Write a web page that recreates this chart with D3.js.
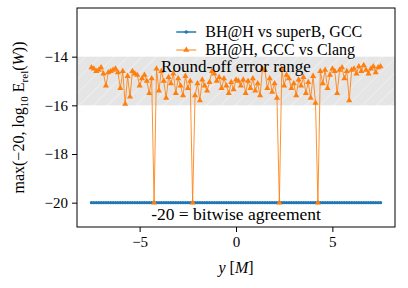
<!DOCTYPE html>
<meta charset="utf-8">
<style>
body { margin: 0; background: #fff; }
svg text { font-family: "Liberation Serif", serif; fill: #000; }
</style>
<body>
<script src="https://cdn.jsdelivr.net/npm/d3@7"></script>
<script>
// sample positions y [M]
var xs = [-7.5, -7.375, -7.25, -7.125, -7, -6.875, -6.75, -6.625, -6.5, -6.375,
  -6.25, -6.125, -6, -5.875, -5.75, -5.625, -5.5, -5.375, -5.25, -5.125,
  -5, -4.875, -4.75, -4.625, -4.5, -4.375, -4.25, -4.125, -4, -3.875,
  -3.75, -3.625, -3.5, -3.375, -3.25, -3.125, -3, -2.875, -2.75, -2.625,
  -2.5, -2.375, -2.25, -2.125, -2, -1.875, -1.75, -1.625, -1.5, -1.375,
  -1.25, -1.125, -1, -0.875, -0.75, -0.625, -0.5, -0.375, -0.25, -0.125,
  0, 0.125, 0.25, 0.375, 0.5, 0.625, 0.75, 0.875, 1, 1.125,
  1.25, 1.375, 1.5, 1.625, 1.75, 1.875, 2, 2.125, 2.25, 2.375,
  2.5, 2.625, 2.75, 2.875, 3, 3.125, 3.25, 3.375, 3.5, 3.625,
  3.75, 3.875, 4, 4.125, 4.25, 4.375, 4.5, 4.625, 4.75, 4.875,
  5, 5.125, 5.25, 5.375, 5.5, 5.625, 5.75, 5.875, 6, 6.125,
  6.25, 6.375, 6.5, 6.625, 6.75, 6.875, 7, 7.125, 7.25, 7.375, 7.5];

// BH@H vs superB, GCC : bitwise agreement everywhere
var superB = [-20, -20, -20, -20, -20, -20, -20, -20, -20, -20,
  -20, -20, -20, -20, -20, -20, -20, -20, -20, -20,
  -20, -20, -20, -20, -20, -20, -20, -20, -20, -20,
  -20, -20, -20, -20, -20, -20, -20, -20, -20, -20,
  -20, -20, -20, -20, -20, -20, -20, -20, -20, -20,
  -20, -20, -20, -20, -20, -20, -20, -20, -20, -20,
  -20, -20, -20, -20, -20, -20, -20, -20, -20, -20,
  -20, -20, -20, -20, -20, -20, -20, -20, -20, -20,
  -20, -20, -20, -20, -20, -20, -20, -20, -20, -20,
  -20, -20, -20, -20, -20, -20, -20, -20, -20, -20,
  -20, -20, -20, -20, -20, -20, -20, -20, -20, -20,
  -20, -20, -20, -20, -20, -20, -20, -20, -20, -20, -20];

// BH@H, GCC vs Clang
var clang = [-14.45, -14.5, -14.6, -14.55, -14.45, -14.7, -15.2, -14.65, -14.6, -14.55,
  -14.5, -14.65, -15.3, -14.6, -15.95, -14.8, -15.65, -14.6, -14.7, -14.75,
  -15.2, -14.9, -14.75, -15.0, -15.5, -14.9, -20, -14.5, -15.4, -14.6,
  -15.0, -15.7, -14.85, -15.1, -14.7, -15.5, -14.9, -15.2, -15.6, -14.8,
  -15.3, -15.0, -20, -15.6, -15.1, -15.8, -14.95, -15.2, -15.4, -15.05,
  -14.6, -14.7, -15.0, -14.85, -15.3, -14.9, -15.2, -15.5, -15.05, -15.35,
  -14.95, -15.0, -15.2, -14.95, -15.5, -15.0, -15.3, -14.9, -15.4, -15.1,
  -15.6, -14.5, -14.55, -15.3, -14.9, -15.45, -15.1, -15.7, -20, -14.5,
  -15.2, -14.75, -14.9, -15.3, -15.1, -15.6, -14.95, -15.2, -14.85, -15.5,
  -15.05, -15.7, -14.8, -15.9, -20, -14.6, -15.1, -14.55, -15.3, -14.75,
  -14.5, -14.6, -15.5, -14.55, -14.45, -14.9, -14.6, -15.8, -14.55, -14.5,
  -14.7, -14.4, -14.6, -14.35, -14.55, -14.7, -14.5, -14.4, -14.65, -14.45, -14.4];

var yTicks = [-20, -18, -16, -14];
var xTicks = [-5, 0, 5];
var band = [-16, -14];

var W = 408, H = 288;
var margin = {top: 8, right: 13, bottom: 61, left: 77},
    width = W - margin.left - margin.right,
    height = H - margin.top - margin.bottom;

var blue = "#1f77b4", orange = "#ff7f0e";

var x = d3.scaleLinear().domain([-8.25, 8.25]).range([0, width]);
var y = d3.scaleLinear().domain([-21, -12]).range([height, 0]);

var svg = d3.select("body").append("svg")
    .attr("width", W).attr("height", H);

// hatch for the round-off band
var defs = svg.append("defs");
var pat = defs.append("pattern")
    .attr("id", "hatch")
    .attr("patternUnits", "userSpaceOnUse")
    .attr("width", 10).attr("height", 10)
    .attr("patternTransform", "rotate(45)");
pat.append("rect").attr("width", 10).attr("height", 10).attr("fill", "#e5e5e5");
pat.append("line").attr("x1", 0).attr("y1", 0).attr("x2", 0).attr("y2", 10)
    .attr("stroke", "#f4f4f4").attr("stroke-width", 1.2);

defs.append("clipPath").attr("id", "clip")
  .append("rect").attr("width", width).attr("height", height);

var g = svg.append("g")
    .attr("transform", "translate(" + margin.left + "," + margin.top + ")");

g.append("rect")
    .attr("x", 0).attr("width", width)
    .attr("y", y(band[1])).attr("height", y(band[0]) - y(band[1]))
    .attr("fill", "url(#hatch)");

var plot = g.append("g").attr("clip-path", "url(#clip)");

var line = d3.line()
    .x(function(d) { return x(d[0]); })
    .y(function(d) { return y(d[1]); });

var blueData = d3.zip(xs, superB);
var orangeData = d3.zip(xs, clang);

plot.append("path").datum(blueData)
    .attr("d", line).attr("fill", "none")
    .attr("stroke", blue).attr("stroke-width", 1.5);
plot.selectAll(".dot").data(blueData).enter().append("circle")
    .attr("cx", function(d) { return x(d[0]); })
    .attr("cy", function(d) { return y(d[1]); })
    .attr("r", 1.7).attr("fill", blue);

plot.append("path").datum(orangeData)
    .attr("d", line).attr("fill", "none")
    .attr("stroke", orange).attr("stroke-width", 1).attr("stroke-opacity", 0.85);

var tri = d3.symbol().type(d3.symbolTriangle).size(16);
plot.selectAll(".tri").data(orangeData).enter().append("path")
    .attr("transform", function(d) { return "translate(" + x(d[0]) + "," + y(d[1]) + ")"; })
    .attr("d", tri).attr("fill", orange);

// annotations
g.append("text")
    .attr("x", x(0)).attr("y", y(-14) + 15)
    .style("text-anchor", "middle").style("font-size", "17px")
    .text("Round-off error range");
g.append("text")
    .attr("x", x(0)).attr("y", y(-20) + 17)
    .style("text-anchor", "middle").style("font-size", "17.5px")
    .text("-20 = bitwise agreement");

// axes
var xAxis = g.append("g")
    .attr("transform", "translate(0," + height + ")")
    .call(d3.axisBottom(x).tickValues(xTicks).tickSizeOuter(0).tickSize(5).tickPadding(4)
      .tickFormat(function(d) { return d < 0 ? "\u2212" + (-d) : d; }));
var yAxis = g.append("g")
    .call(d3.axisLeft(y).tickValues(yTicks).tickSizeOuter(0).tickSize(5).tickPadding(4)
      .tickFormat(function(d) { return "\u2212" + (-d); }));
[xAxis, yAxis].forEach(function(a) {
  a.select(".domain").remove();
  a.selectAll("line").attr("stroke", "#000").attr("stroke-width", 1);
  a.selectAll("text").style("font-size", "15px").style("font-family", "Liberation Serif, serif");
});

g.append("rect")
    .attr("width", width).attr("height", height)
    .attr("fill", "none").attr("stroke", "#000").attr("stroke-width", 1);

// legend
var legend = g.append("g").attr("transform", "translate(" + (x(-3.1)) + ",24)");
var rows = [{label: "BH@H vs superB, GCC", color: blue, mark: "dot"},
            {label: "BH@H, GCC vs Clang", color: orange, mark: "tri"}];
rows.forEach(function(r, i) {
  var row = legend.append("g").attr("transform", "translate(0," + (i * 18) + ")");
  row.append("line").attr("x1", 0).attr("x2", 20).attr("y1", 0).attr("y2", 0)
      .attr("stroke", r.color).attr("stroke-width", r.mark == "dot" ? 1.5 : 1);
  if (r.mark == "dot") {
    row.append("circle").attr("cx", 10).attr("cy", 0).attr("r", 1.7).attr("fill", r.color);
  } else {
    row.append("path").attr("transform", "translate(10,0)").attr("d", tri).attr("fill", r.color);
  }
  row.append("text").attr("x", 29).attr("y", 5)
      .style("font-size", "16px").text(r.label);
});

// axis labels
svg.append("text")
    .attr("x", margin.left + x(0)).attr("y", 273)
    .style("text-anchor", "middle").style("font-size", "16px")
    .html('<tspan font-style="italic">y</tspan> [<tspan font-style="italic">M</tspan>]');

svg.append("text")
    .attr("transform", "translate(24," + (margin.top + height / 2) + ") rotate(-90)")
    .style("text-anchor", "middle").style("font-size", "16px")
    .html('max(\u221220, log<tspan font-size="11px" dy="4">10</tspan>' +
          '<tspan dy="-4"> E</tspan><tspan font-size="11px" dy="4">rel</tspan>' +
          '<tspan dy="-4">(</tspan><tspan font-style="italic">W</tspan>))');
</script>
</body>
